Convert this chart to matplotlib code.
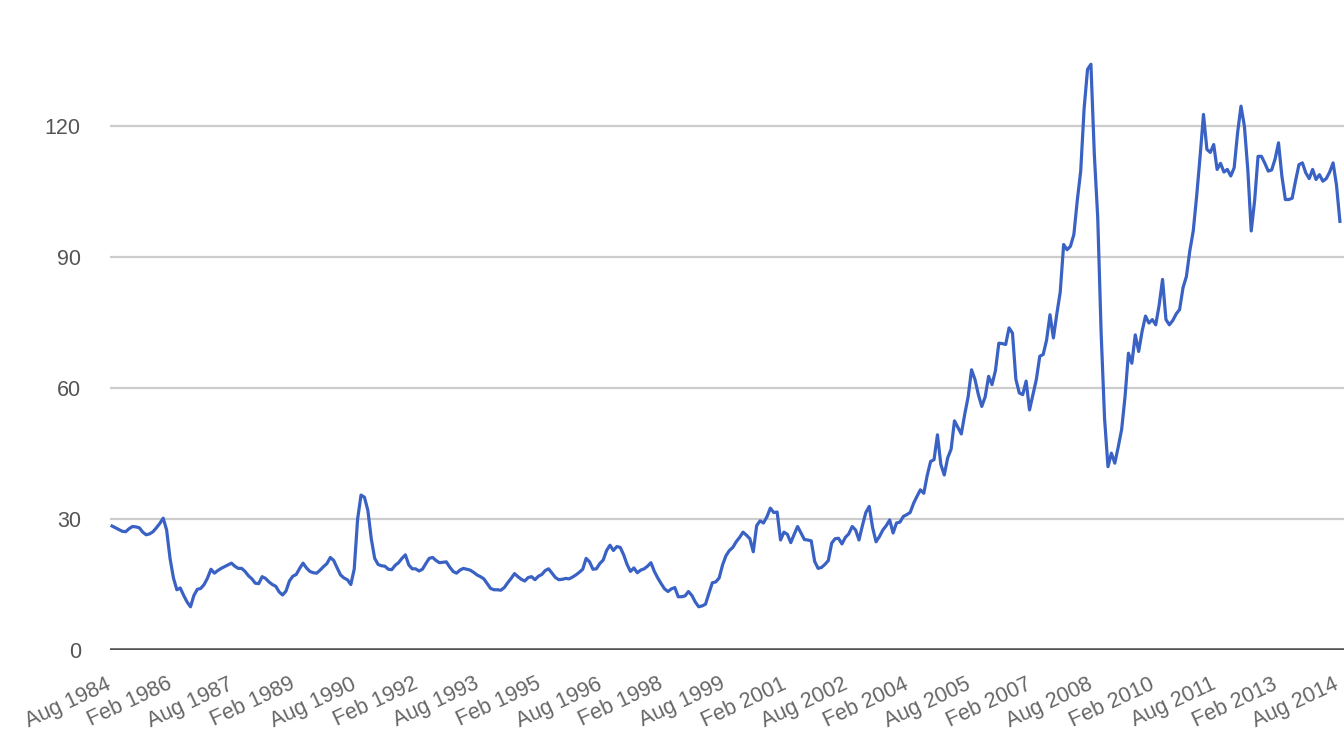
import numpy as np
import matplotlib
matplotlib.use("Agg")
import matplotlib.pyplot as plt
import matplotlib.transforms as mtransforms

###############################################################################
# Data: monthly price, Aug 1984 .. Aug 2014
start_year, start_month = 1984, 8

p_1984 = [28.4, 28.0, 27.6, 27.2, 27.1]
p_1985 = [27.8, 28.3, 28.2, 28.0, 27.0, 26.4, 26.6, 27.1, 28.0, 29.0, 30.2, 27.5]
p_1986 = [21.0, 16.5, 13.8, 14.2, 12.5, 11.0, 9.9, 12.5, 13.9, 14.1, 15.0, 16.5]
p_1987 = [18.5, 17.6, 18.2, 18.7, 19.1, 19.5, 19.9, 19.2, 18.7, 18.7, 18.0, 17.0]
p_1988 = [16.3, 15.3, 15.2, 16.8, 16.4, 15.6, 15.0, 14.6, 13.3, 12.6, 13.5, 15.8]
p_1989 = [16.9, 17.3, 18.7, 19.9, 18.8, 18.0, 17.7, 17.6, 18.3, 19.1, 19.8, 21.2]
p_1990 = [20.5, 18.8, 17.2, 16.5, 16.1, 15.0, 18.5, 30.0, 35.5, 35.0, 32.0, 25.5]
p_1991 = [21.0, 19.6, 19.3, 19.2, 18.5, 18.4, 19.4, 20.0, 21.0, 21.8, 19.5, 18.6]
p_1992 = [18.6, 18.1, 18.5, 19.8, 21.0, 21.2, 20.5, 20.0, 20.1, 20.2, 19.0, 18.0]
p_1993 = [17.6, 18.3, 18.7, 18.5, 18.3, 17.8, 17.2, 16.8, 16.3, 15.2, 14.1, 13.8]
p_1994 = [13.8, 13.7, 14.3, 15.4, 16.4, 17.5, 16.8, 16.2, 15.8, 16.6, 16.8, 16.1]
p_1995 = [16.9, 17.3, 18.2, 18.6, 17.6, 16.6, 16.1, 16.2, 16.4, 16.3, 16.7, 17.2]
p_1996 = [17.8, 18.5, 21.0, 20.2, 18.5, 18.6, 19.8, 20.6, 22.8, 24.0, 22.8, 23.7]
p_1997 = [23.5, 21.8, 19.6, 18.0, 18.8, 17.7, 18.3, 18.6, 19.2, 20.0, 18.0, 16.5]
p_1998 = [15.2, 14.0, 13.4, 14.0, 14.3, 12.2, 12.2, 12.4, 13.4, 12.5, 11.0, 9.9]
p_1999 = [10.1, 10.5, 13.0, 15.4, 15.6, 16.5, 19.5, 21.6, 22.8, 23.5, 24.8, 25.8]
p_2000 = [27.0, 26.3, 25.5, 22.5, 28.5, 29.6, 29.1, 30.5, 32.5, 31.5, 31.6, 25.2]
p_2001 = [27.0, 26.5, 24.6, 26.5, 28.3, 26.8, 25.3, 25.2, 25.0, 20.3, 18.7, 18.9]
p_2002 = [19.6, 20.5, 24.5, 25.5, 25.6, 24.3, 25.8, 26.6, 28.3, 27.5, 25.2, 28.5]
p_2003 = [31.5, 32.9, 28.0, 24.8, 26.0, 27.5, 28.5, 29.8, 26.8, 29.1, 29.3, 30.6]
p_2004 = [31.0, 31.5, 33.6, 35.2, 36.7, 35.9, 40.0, 43.2, 43.6, 49.3, 42.5, 40.1]
p_2005 = [44.0, 46.0, 52.5, 51.0, 49.5, 54.0, 58.0, 64.2, 62.0, 58.5, 55.8, 58.0]
p_2006 = [62.7, 60.8, 64.0, 70.3, 70.2, 70.0, 73.8, 72.6, 62.0, 58.9, 58.5, 61.6]
p_2007 = [55.0, 58.5, 62.0, 67.3, 67.7, 71.0, 76.8, 71.5, 77.0, 82.0, 92.9, 91.7]
p_2008 = [92.5, 95.2, 103.0, 109.7, 124.0, 133.0, 134.2, 113.5, 99.0, 72.5, 53.0, 42.0]
p_2009 = [45.1, 42.8, 46.5, 50.5, 58.0, 68.0, 65.7, 72.2, 68.4, 73.0, 76.5, 74.9]
p_2010 = [75.7, 74.5, 79.0, 84.9, 75.7, 74.5, 75.5, 77.0, 78.0, 83.0, 85.6, 91.5]
p_2011 = [96.0, 104.0, 113.0, 122.7, 114.7, 114.0, 115.8, 110.1, 111.5, 109.5, 110.1, 108.6]
p_2012 = [110.5, 118.5, 124.6, 120.0, 110.0, 96.0, 103.0, 113.1, 113.1, 111.5, 109.7, 110.0]
p_2013 = [112.5, 116.2, 108.5, 103.2, 103.2, 103.5, 107.5, 111.2, 111.6, 109.3, 108.0, 110.1]
p_2014 = [107.8, 108.9, 107.4, 108.0, 109.5, 111.6, 106.5, 98.2]

price = (p_1984 + p_1985 + p_1986 + p_1987 + p_1988 + p_1989 + p_1990 + p_1991
         + p_1992 + p_1993 + p_1994 + p_1995 + p_1996 + p_1997 + p_1998 + p_1999
         + p_2000 + p_2001 + p_2002 + p_2003 + p_2004 + p_2005 + p_2006 + p_2007
         + p_2008 + p_2009 + p_2010 + p_2011 + p_2012 + p_2013 + p_2014)

tick_labels = ['Aug 1984', 'Feb 1986', 'Aug 1987', 'Feb 1989', 'Aug 1990', 'Feb 1992',
               'Aug 1993', 'Feb 1995', 'Aug 1996', 'Feb 1998', 'Aug 1999', 'Feb 2001',
               'Aug 2002', 'Feb 2004', 'Aug 2005', 'Feb 2007', 'Aug 2008', 'Feb 2010',
               'Aug 2011', 'Feb 2013', 'Aug 2014']
y_ticks = [0, 30, 60, 90, 120]

###############################################################################
# Plot
plt.rcParams['font.family'] = ['Liberation Sans', 'DejaVu Sans']
month = np.arange(len(price))
fig = plt.figure(figsize=(13.44, 7.41), dpi=100)
ax = fig.add_axes([110/1344, 91/741, 1234/1344, 646/741])

ax.plot(month, price, color='#3a62c4', linewidth=2.3, solid_joinstyle='round')
ax.set_xlim(-0.6, 361.2)
ax.set_ylim(0, 148)

ax.set_yticks(y_ticks)
ax.set_yticklabels([str(t) for t in y_ticks], fontsize=15.5, color='#555555')
ax.tick_params(axis='y', length=0, pad=21)
for t in y_ticks[1:]:
    ax.axhline(t, color='#cccccc', linewidth=1.6, zorder=0)
ax.axhline(0, color='#555555', linewidth=2.6, zorder=1)

ax.set_xticks(np.arange(0, 361, 18))
ax.set_xticklabels(tick_labels, rotation=25, ha='right', rotation_mode='anchor',
                   fontsize=15.5, color='#666666')
ax.tick_params(axis='x', length=0, pad=17)
# nudge rotated labels left so their ends sit on the tick
shift = mtransforms.ScaledTranslation(-7/100, 0, fig.dpi_scale_trans)
for lab in ax.get_xticklabels():
    lab.set_transform(lab.get_transform() + shift)

for s in ax.spines.values():
    s.set_visible(False)

fig.savefig('out.png', dpi=100)
print('Completed')
